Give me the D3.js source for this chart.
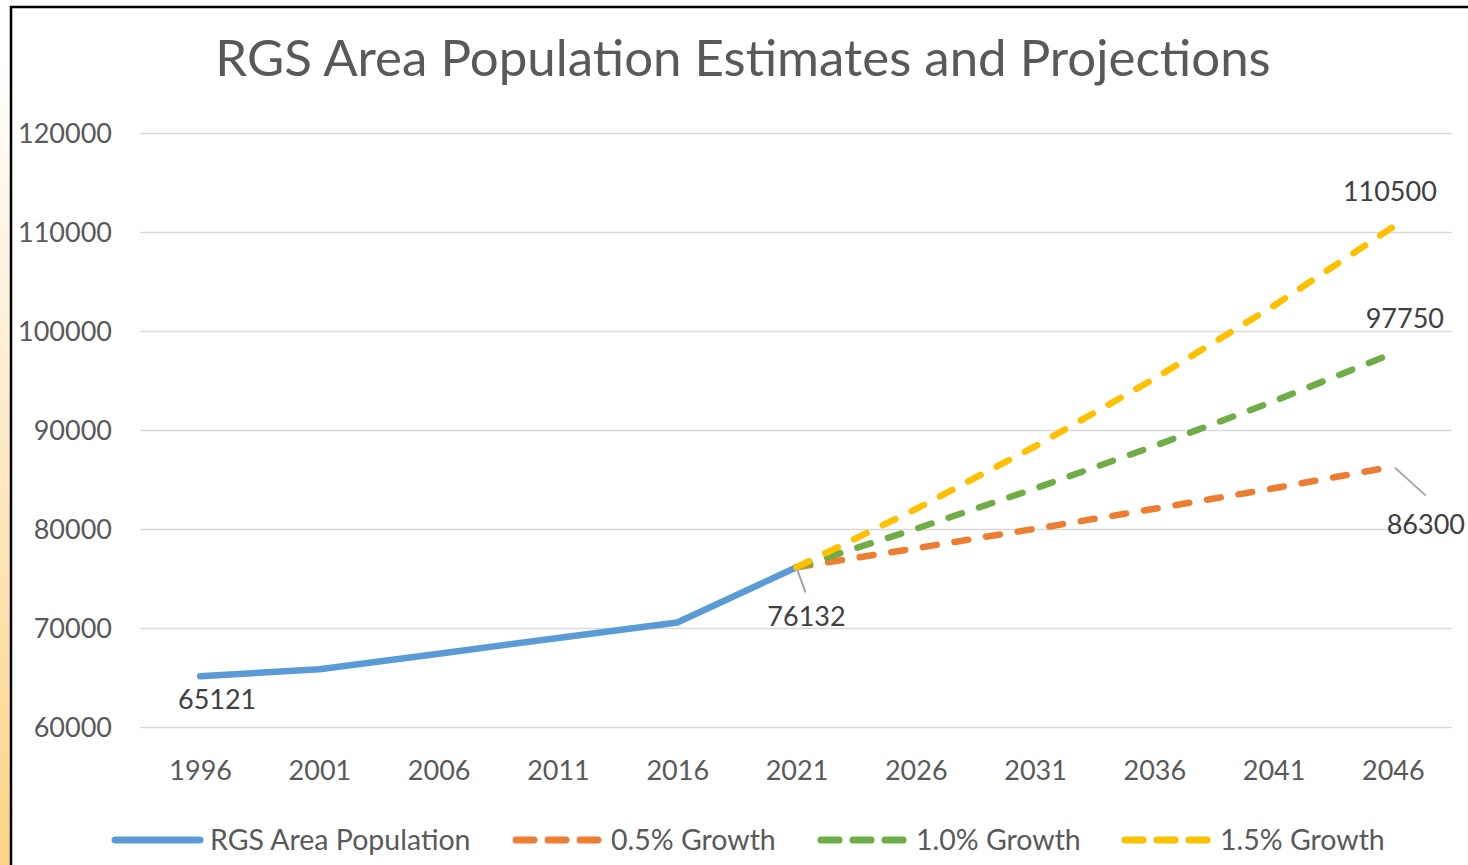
<!doctype html>
<html>
<head>
<meta charset="utf-8">
<script src="https://cdnjs.cloudflare.com/ajax/libs/d3/7.8.5/d3.min.js"></script>
<style>
  html, body { margin: 0; padding: 0; background: #fff; }
  svg { display: block; }
  text { font-family: Lato, "Noto Sans", sans-serif; }
</style>
<title>RGS Area Population</title>
</head>
<body>
<svg id="chart" width="1468" height="865"></svg>
<script>
// chart data
var years = ["1996", "2001", "2006", "2011", "2016", "2021", "2026", "2031", "2036", "2041", "2046"];
var population = [65121, 65840, 67400, 68990, 70550, 76132];
var growth05 = [76132, 78050, 80020, 82040, 84110, 86300];
var growth10 = [76132, 80010, 84090, 88380, 92890, 97750];
var growth15 = [76132, 82010, 88350, 95180, 102530, 110500];
var yTicks = [60000, 70000, 80000, 90000, 100000, 110000, 120000];
var seriesNames = ["RGS Area Population", "0.5% Growth", "1.0% Growth", "1.5% Growth"];
var seriesColors = ["#5b9bd5", "#ed7d31", "#70ad47", "#ffc000"];

var svg = d3.select("#chart");

// left page strip + frame
var defs = svg.append("defs");
var grad = defs.append("linearGradient").attr("id", "strip")
  .attr("x1", 0).attr("y1", 0).attr("x2", 0).attr("y2", 1);
grad.append("stop").attr("offset", "0.06").attr("stop-color", "#ffffff");
grad.append("stop").attr("offset", "0.45").attr("stop-color", "#fdeccd");
grad.append("stop").attr("offset", "1").attr("stop-color", "#fcd486");
svg.append("rect").attr("x", 0).attr("y", 6).attr("width", 11).attr("height", 859)
  .attr("fill", "url(#strip)");
svg.append("line").attr("x1", 10).attr("x2", 1468).attr("y1", 7).attr("y2", 7)
  .attr("stroke", "#000").attr("stroke-width", 2.5);
svg.append("line").attr("x1", 11).attr("x2", 11).attr("y1", 6).attr("y2", 865)
  .attr("stroke", "#000").attr("stroke-width", 2.5);

var x = d3.scalePoint().domain(years).range([140.5, 1452.5]).padding(0.5);
var y = d3.scaleLinear().domain([60000, 120000]).range([727, 133]);

// title
svg.append("text")
  .attr("x", 743).attr("y", 76)
  .attr("text-anchor", "middle")
  .attr("fill", "#595959")
  .style("font-size", "51px")
  .text("RGS Area Population Estimates and Projections");

// gridlines
var yAxis = d3.axisLeft(y).tickValues(yTicks).tickSize(-1312).tickFormat(d3.format("d")).tickPadding(28);
var gy = svg.append("g").attr("transform", "translate(140,0)").call(yAxis);
gy.select(".domain").remove();
gy.selectAll(".tick line").attr("stroke", "#d9d9d9").attr("stroke-width", 1.5);
gy.selectAll(".tick text").attr("fill", "#595959").style("font-size", "27px")
  .attr("dy", "0.35em");

var xAxis = d3.axisBottom(x).tickSize(0).tickPadding(34);
var gx = svg.append("g").attr("transform", "translate(0,727)").call(xAxis);
gx.select(".domain").remove();
gx.selectAll(".tick text").attr("fill", "#595959").style("font-size", "27px");

var line = d3.line().x(d => x(d[0])).y(d => y(d[1]));
function pairs(vals, start) {
  return vals.map((v, i) => [years[start + i], v]);
}
var series = [pairs(population, 0), pairs(growth05, 5), pairs(growth10, 5), pairs(growth15, 5)];

series.forEach(function (s, i) {
  svg.append("path")
    .datum(s)
    .attr("d", line)
    .attr("fill", "none")
    .attr("stroke", seriesColors[i])
    .attr("stroke-width", 6.5)
    .attr("stroke-linecap", "round")
    .attr("stroke-linejoin", "round")
    .attr("stroke-dasharray", i == 0 ? null : "14 18");
});

// data labels
function label(yr, v, dx, dy, lead) {
  var px = x(yr), py = y(v);
  if (lead) {
    svg.append("line")
      .attr("x1", px + lead[0]).attr("y1", py + lead[1])
      .attr("x2", px + lead[2]).attr("y2", py + lead[3])
      .attr("stroke", "#a6a6a6").attr("stroke-width", 2);
  }
  svg.append("text")
    .attr("x", px + dx).attr("y", py + dy)
    .attr("text-anchor", "middle")
    .attr("fill", "#404040")
    .style("font-size", "27px")
    .text(v);
}
label(years[0], population[0], 17, 33);
label(years[5], population[5], 10, 59, [1, 3, 9, 25]);
label(years[10], growth15[5], -3, -26);
label(years[10], growth10[5], 12, -25);
label(years[10], growth05[5], 33, 67, [2, 1, 33, 29]);

// legend
var legX = [112, 513, 818, 1122];
var legY = 840;
seriesNames.forEach(function (n, i) {
  var g = svg.append("g");
  g.append("line")
    .attr("x1", legX[i] + 3).attr("x2", legX[i] + 88)
    .attr("y1", legY).attr("y2", legY)
    .attr("stroke", seriesColors[i])
    .attr("stroke-width", 7)
    .attr("stroke-linecap", "round")
    .attr("stroke-dasharray", i == 0 ? null : "18 14");
  g.append("text")
    .attr("x", legX[i] + 98).attr("y", legY + 10)
    .attr("fill", "#595959")
    .style("font-size", "28.5px")
    .text(n);
});
</script>
</body>
</html>
